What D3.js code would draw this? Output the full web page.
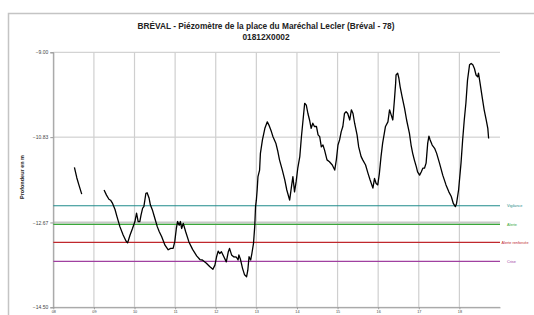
<!DOCTYPE html>
<html><head><meta charset="utf-8">
<script src="https://cdn.jsdelivr.net/npm/d3@7"></script>
<style>html,body{margin:0;padding:0;background:#fff;}svg{display:block;}</style>
</head><body>
<svg id="c" width="534" height="315"></svg>
<script>
// ---- data ----
const titleLines = ["BRÉVAL - Piézomètre de la place du Maréchal Lecler (Bréval - 78)", "01812X0002"];
const yLabel = "Profondeur en m";
const xTickYears = [2008,2009,2010,2011,2012,2013,2014,2015,2016,2017,2018];
const xTickLabels = ["08","09","10","11","12","13","14","15","16","17","18"];
const yTicks = [-9.00, -10.83, -12.67, -14.50];
const thresholdNames = ["Vigilance","Alerte","Alerte renforcée","Crise"];
const thresholdValues = [-12.31, -12.71, -13.10, -13.51];
const thresholdColors = ["#1f8b8b","#3aa83a","#c0282d","#a040a0"];
// decimal year, depth (m); null = gap
const dates = [
2008.52,2008.58,2008.63,2008.70, 2008.90,
2009.25,2009.31,2009.37,2009.41,2009.46,2009.52,2009.57,2009.64,2009.72,2009.79,2009.83,2009.89,2009.95,
2010.01,2010.05,2010.09,2010.13,2010.16,2010.20,2010.23,2010.28,2010.31,2010.36,2010.39,2010.44,2010.50,2010.56,2010.61,2010.67,2010.75,2010.83,2010.89,2010.95,2010.99,
2011.03,2011.06,2011.10,2011.13,2011.16,2011.20,2011.26,2011.34,2011.43,2011.53,2011.61,2011.67,2011.77,2011.85,2011.93,2011.98,
2012.02,2012.06,2012.10,2012.14,2012.20,2012.26,2012.31,2012.34,2012.39,2012.44,2012.51,2012.55,2012.57,2012.61,2012.66,2012.71,2012.76,2012.79,2012.82,2012.86,2012.89,2012.93,2012.96,2012.98,
2013.00,2013.02,2013.04,2013.08,2013.10,2013.15,2013.21,2013.27,2013.31,2013.37,2013.41,2013.48,2013.53,2013.57,2013.64,2013.70,2013.75,2013.82,2013.86,2013.90,2013.94,2013.98,
2014.02,2014.07,2014.11,2014.15,2014.19,2014.23,2014.27,2014.31,2014.35,2014.39,2014.43,2014.48,2014.52,2014.56,2014.60,2014.64,2014.68,2014.74,2014.80,2014.87,2014.93,2014.97,
2015.01,2015.05,2015.09,2015.13,2015.17,2015.21,2015.25,2015.30,2015.34,2015.38,2015.42,2015.48,2015.52,2015.58,2015.62,2015.69,2015.75,2015.80,2015.87,2015.91,2015.95,2015.99,
2016.03,2016.07,2016.11,2016.18,2016.24,2016.28,2016.32,2016.36,2016.40,2016.43,2016.44,2016.48,2016.51,2016.54,2016.59,2016.65,2016.70,2016.77,2016.81,2016.85,2016.89,2016.94,2016.97,
2017.02,2017.06,2017.10,2017.14,2017.18,2017.22,2017.25,2017.28,2017.33,2017.39,2017.44,2017.51,2017.59,2017.67,2017.74,2017.80,2017.85,2017.90,2017.93,2017.98,
2018.04,2018.08,2018.12,2018.16,2018.20,2018.25,2018.29,2018.33,2018.37,2018.41,2018.45,2018.47,2018.51,2018.56,2018.61,2018.66,2018.70,2018.72
];
const depths = [
-11.48,-11.71,-11.86,-12.06, null,
-11.97,-12.08,-12.17,-12.19,-12.26,-12.39,-12.55,-12.76,-12.94,-13.07,-13.11,-12.94,-12.80,
-12.65,-12.47,-12.65,-12.65,-12.51,-12.36,-12.33,-12.04,-12.03,-12.15,-12.29,-12.40,-12.58,-12.76,-12.87,-12.98,-13.16,-13.26,-13.23,-13.23,-13.09,
-12.80,-12.65,-12.73,-12.65,-12.80,-12.69,-12.87,-13.09,-13.25,-13.39,-13.47,-13.48,-13.55,-13.62,-13.68,-13.59,
-13.41,-13.29,-13.34,-13.30,-13.41,-13.52,-13.30,-13.23,-13.37,-13.41,-13.42,-13.48,-13.37,-13.47,-13.66,-13.80,-13.84,-13.70,-13.41,-13.48,-13.34,-13.12,-12.76,-12.33,
-12.19,-11.97,-11.68,-11.54,-11.18,-10.89,-10.64,-10.50,-10.57,-10.71,-10.82,-10.96,-11.14,-11.32,-11.54,-11.75,-11.97,-12.19,-11.93,-11.68,-12.01,-11.79,
-11.50,-11.25,-10.82,-10.46,-10.10,-10.14,-10.32,-10.46,-10.64,-10.53,-10.60,-10.60,-10.78,-10.82,-11.04,-11.00,-11.11,-11.32,-11.36,-11.43,-11.54,-11.32,
-11.00,-10.89,-10.71,-10.60,-10.32,-10.28,-10.32,-10.46,-10.24,-10.32,-10.53,-10.78,-11.04,-11.25,-11.32,-11.43,-11.61,-11.75,-11.93,-11.72,-11.83,-11.86,
-11.61,-11.25,-10.96,-10.60,-10.50,-10.24,-10.35,-10.46,-10.03,-9.67,-9.49,-9.45,-9.56,-9.74,-9.96,-10.21,-10.46,-10.75,-11.00,-11.18,-11.32,-11.47,-11.58,
-11.65,-11.58,-11.50,-11.50,-11.39,-10.96,-10.81,-10.89,-11.00,-11.07,-11.18,-11.39,-11.65,-11.86,-12.01,-12.11,-12.26,-12.33,-12.26,-11.97,
-11.39,-10.89,-10.46,-10.10,-9.60,-9.27,-9.24,-9.27,-9.35,-9.49,-9.53,-9.45,-9.67,-9.96,-10.24,-10.46,-10.64,-10.86
];

// ---- chart ----
(function(){
const svg = d3.select("#c");
const font = "'Liberation Sans', Arial, sans-serif";
const mL = 53.3, mR = 500, mT = 52.3, mB = 307.3;
const x = d3.scaleLinear().domain([2008, 2019]).range([mL, mR]);
const y = d3.scaleLinear().domain([-14.5, -9]).range([mB, mT]);

// outer frame
svg.append("path").attr("d", `M8.5,315 L8.5,13.5 L534,13.5`).attr("fill","none").attr("stroke","#c4c4c4").attr("stroke-width",1.5);

// title
svg.append("text").attr("x", 266).attr("y", 28.5).attr("text-anchor","middle")
  .attr("font-family", font).attr("font-weight","bold").attr("font-size", 8.3).attr("fill","#222").text(titleLines[0]);
svg.append("text").attr("x", 266).attr("y", 39.5).attr("text-anchor","middle")
  .attr("font-family", font).attr("font-weight","bold").attr("font-size", 8.3).attr("fill","#222").text(titleLines[1]);

// grid
const g = svg.append("g");
g.selectAll("line.hg").data(yTicks).join("line")
  .attr("x1", mL).attr("x2", mR).attr("y1", d=>y(d)).attr("y2", d=>y(d))
  .attr("stroke","#c8c8c8").attr("stroke-width", (d,i)=> i===2 ? 2 : 1);
g.selectAll("line.vg").data(xTickYears).join("line")
  .attr("x1", d=>x(d)).attr("x2", d=>x(d)).attr("y1", mT).attr("y2", mB)
  .attr("stroke","#cfcfcf").attr("stroke-width",1.2);

// axes
const yAxis = d3.axisLeft(y).tickValues(yTicks).tickFormat(d3.format(".2f")).tickSize(3).tickPadding(2);
const ya = svg.append("g").attr("transform", `translate(${mL},0)`).call(yAxis);
ya.select(".domain").attr("stroke","#999");
ya.selectAll(".tick line").attr("stroke","#999");
ya.selectAll("text").attr("font-family", font).attr("font-size", 5).attr("fill","#444");

const xAxis = d3.axisBottom(x).tickValues(xTickYears).tickFormat((d,i)=>xTickLabels[i]).tickSize(2).tickPadding(1.5).tickSizeOuter(0);
const xa = svg.append("g").attr("transform", `translate(0,${mB})`).call(xAxis);
xa.select(".domain").attr("stroke","#999");
xa.selectAll(".tick line").attr("stroke","#999");
xa.selectAll("text").attr("font-family", font).attr("font-size", 3.8).attr("fill","#444");

// y label
svg.append("text").attr("transform","translate(24,177) rotate(-90)").attr("text-anchor","middle")
  .attr("font-family", font).attr("font-weight","bold").attr("font-size", 5.5).attr("fill","#222").text(yLabel);

// thresholds
thresholdValues.forEach((v,i)=>{
  svg.append("line").attr("x1", mL).attr("x2", mR).attr("y1", y(v)).attr("y2", y(v))
    .attr("stroke", thresholdColors[i]).attr("stroke-width", 1.2);
  svg.append("text").attr("x", i===2 ? 501.5 : 507).attr("y", y(v)+1.3)
    .attr("font-family", font).attr("font-size", 3.8).attr("fill", thresholdColors[i]).text(thresholdNames[i]);
});

// series
const pts = dates.map((d,i)=>({d, v: depths[i]}));
const line = d3.line().defined(p=>p.v!==null).x(p=>x(p.d)).y(p=>y(p.v));
svg.append("path").datum(pts).attr("d", line).attr("fill","none").attr("stroke","#000").attr("stroke-width",1.3).attr("stroke-linejoin","round");
})();
</script>
</body></html>
